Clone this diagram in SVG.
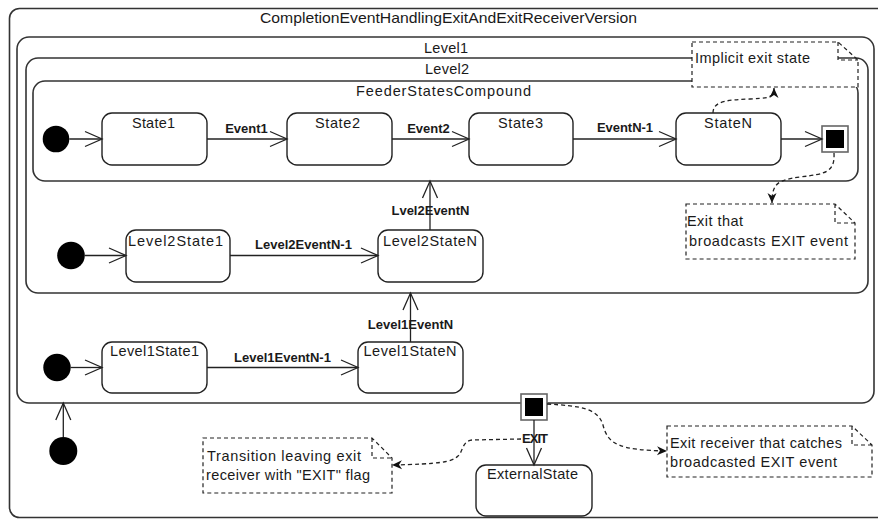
<svg xmlns="http://www.w3.org/2000/svg" width="878" height="519" viewBox="0 0 878 519">
  <style>
    .frame { fill: #fff; stroke: #333; stroke-width: 1.6; }
    .state { fill: #fff; stroke: #222; stroke-width: 1.4; }
    .init { fill: #000; }
    .note { fill: #fff; stroke: #222; stroke-width: 1.2; stroke-dasharray: 4 3; }
    .edge { fill: none; stroke: #222; stroke-width: 1.3; }
    .dash { fill: none; stroke: #222; stroke-width: 1.3; stroke-dasharray: 4 3; }
    .exitOuter { fill: #fff; stroke: #666; stroke-width: 1.6; }
    .t { font-family: "Liberation Sans", Arial, sans-serif; font-size: 14.5px; fill: #1a1a1a; }
    .c { text-anchor: middle; }
    .b { font-family: "Liberation Sans", Arial, sans-serif; font-size: 13px; font-weight: bold; fill: #1a1a1a; text-anchor: middle; }
  </style>
  <defs>
    <marker id="open" markerUnits="userSpaceOnUse" markerWidth="20" markerHeight="20" refX="17" refY="8" orient="auto" overflow="visible">
      <path d="M0,0.5 L17,8 L0,15.5" fill="none" stroke="#222" stroke-width="1.3"/>
    </marker>
    <marker id="solid" markerUnits="userSpaceOnUse" markerWidth="12" markerHeight="10" refX="10" refY="4.5" orient="auto" overflow="visible">
      <path d="M0,0 L10,4.5 L0,9 L3,4.5 z" fill="#111"/>
    </marker>
  </defs>

  <rect width="878" height="519" fill="#fff"/>

  <!-- outermost machine -->
  <g id="machine">
    <rect class="frame" x="9.5" y="8.5" width="885" height="509" rx="10"/>
    <text class="t c" x="448.5" y="23" textLength="377" lengthAdjust="spacingAndGlyphs">CompletionEventHandlingExitAndExitReceiverVersion</text>
  </g>

  <g id="level1">
    <rect class="frame" x="17" y="37" width="857" height="366" rx="12"/>
    <text class="t c" x="446" y="53" textLength="44">Level1</text>
  </g>

  <g id="level2">
    <rect class="frame" x="26" y="58" width="842" height="235" rx="12"/>
    <text class="t c" x="447" y="74" textLength="44">Level2</text>
  </g>

  <g id="feeder">
    <rect class="frame" x="33" y="81" width="825" height="100" rx="12"/>
    <text class="t c" x="443.5" y="96" textLength="175">FeederStatesCompound</text>
  </g>

  <!-- states inside FeederStatesCompound -->
  <g id="feeder-init"><circle class="init" cx="56" cy="139" r="13.3"/></g>
  <g id="state1">
    <rect class="state" x="102" y="113" width="105" height="52" rx="10"/>
    <text class="t c" x="153.5" y="128" textLength="43">State1</text>
  </g>
  <g id="state2">
    <rect class="state" x="287" y="113" width="105" height="52" rx="10"/>
    <text class="t c" x="337.5" y="128" textLength="45">State2</text>
  </g>
  <g id="state3">
    <rect class="state" x="469" y="113" width="104" height="52" rx="10"/>
    <text class="t c" x="520.5" y="128" textLength="45">State3</text>
  </g>
  <g id="stateN">
    <rect class="state" x="676" y="113" width="105" height="52" rx="10"/>
    <text class="t c" x="728" y="128" textLength="48">StateN</text>
  </g>
  <g id="feeder-exit">
    <rect class="exitOuter" x="822" y="126" width="26" height="26"/>
    <rect x="826" y="130" width="18" height="18" fill="#000"/>
  </g>

  <!-- states inside Level2 -->
  <g id="level2-init"><circle class="init" cx="71" cy="255.5" r="13.8"/></g>
  <g id="level2State1">
    <rect class="state" x="126" y="230" width="104" height="52" rx="10"/>
    <text class="t c" x="175.5" y="246" textLength="95">Level2State1</text>
  </g>
  <g id="level2StateN">
    <rect class="state" x="378" y="230" width="105" height="52" rx="10"/>
    <text class="t c" x="430" y="246" textLength="94">Level2StateN</text>
  </g>

  <!-- states inside Level1 -->
  <g id="level1-init"><circle class="init" cx="57" cy="367.5" r="13.7"/></g>
  <g id="level1State1">
    <rect class="state" x="102" y="342" width="105" height="51" rx="10"/>
    <text class="t c" x="154.5" y="356" textLength="89">Level1State1</text>
  </g>
  <g id="level1StateN">
    <rect class="state" x="358" y="342" width="105" height="51" rx="10"/>
    <text class="t c" x="410" y="356" textLength="93">Level1StateN</text>
  </g>

  <!-- top level -->
  <g id="top-init"><circle class="init" cx="63.3" cy="451" r="14"/></g>
  <g id="exit-receiver">
    <rect class="exitOuter" x="521" y="394" width="26" height="26"/>
    <rect x="525" y="398" width="18" height="18" fill="#000"/>
  </g>
  <g id="externalState">
    <rect class="state" x="476" y="465" width="116" height="51" rx="10"/>
    <text class="t c" x="532.5" y="479" textLength="91">ExternalState</text>
  </g>

  <!-- notes -->
  <g id="note-implicit">
    <path class="note" d="M692,42 H838 L858,60 V87 H692 Z M838,42 V60 H858"/>
    <text class="t" x="695" y="63" textLength="115">Implicit exit state</text>
  </g>
  <g id="note-broadcast">
    <path class="note" d="M686,204 H835 L855,223 V259 H686 Z M835,204 V223 H855"/>
    <text class="t" x="687" y="226" textLength="56">Exit that</text>
    <text class="t" x="689" y="246" textLength="159">broadcasts EXIT event</text>
  </g>
  <g id="note-transition">
    <path class="note" d="M203,438 H372 L392,458 V493 H203 Z M372,438 V458 H392"/>
    <text class="t" x="207" y="461" textLength="154">Transition leaving exit</text>
    <text class="t" x="206" y="480" textLength="164">receiver with "EXIT" flag</text>
  </g>
  <g id="note-receiver">
    <path class="note" d="M667,426 H852 L872,445 V477 H667 Z M852,426 V445 H872"/>
    <text class="t" x="670" y="448" textLength="172">Exit receiver that catches</text>
    <text class="t" x="670" y="467" textLength="167">broadcasted EXIT event</text>
  </g>

  <!-- transitions and note links -->
  <g id="connectors">
    <path class="edge" d="M69.3,139 H102" marker-end="url(#open)"/>
    <path class="edge" d="M207,139 H287" marker-end="url(#open)"/>
    <path class="edge" d="M392,139 H469" marker-end="url(#open)"/>
    <path class="edge" d="M573,139 H676" marker-end="url(#open)"/>
    <path class="edge" d="M781,139 H822" marker-end="url(#open)"/>

    <path class="edge" d="M84.8,255.5 H126" marker-end="url(#open)"/>
    <path class="edge" d="M230,255.5 H378" marker-end="url(#open)"/>
    <path class="edge" d="M430,230 V181" marker-end="url(#open)"/>

    <path class="edge" d="M70.7,367.5 H102" marker-end="url(#open)"/>
    <path class="edge" d="M207,367.5 H358" marker-end="url(#open)"/>
    <path class="edge" d="M410.5,342 V293" marker-end="url(#open)"/>

    <path class="edge" d="M63.3,437 V403" marker-end="url(#open)"/>
    <path class="edge" d="M534,420 V465" marker-end="url(#open)"/>

    <path class="dash" d="M713,113 C713,100 730,100 750,99 C766,98 774,99 774,88" marker-end="url(#solid)"/>
    <path class="dash" d="M834,153 C835,172 826,174 800,177 C778,180 772,183 772,203" marker-end="url(#solid)"/>
    <path class="dash" d="M521,439 L472,440 C462,441 463,452 458,456 C452,462 440,464 392,465" marker-end="url(#solid)"/>
    <path class="dash" d="M547,404 C580,406 598,408 603,425 C608,445 620,450 667,451" marker-end="url(#solid)"/>

    <text class="b" x="246.5" y="133">Event1</text>
    <text class="b" x="428.5" y="133">Event2</text>
    <text class="b" x="625" y="132" textLength="56">EventN-1</text>
    <text class="b" x="303.5" y="249">Level2EventN-1</text>
    <text class="b" x="430.5" y="215">Lvel2EventN</text>
    <text class="b" x="282.5" y="362">Level1EventN-1</text>
    <text class="b" x="410.5" y="329">Level1EventN</text>
    <text class="b" x="535" y="443" textLength="26">EXIT</text>
  </g>
</svg>
